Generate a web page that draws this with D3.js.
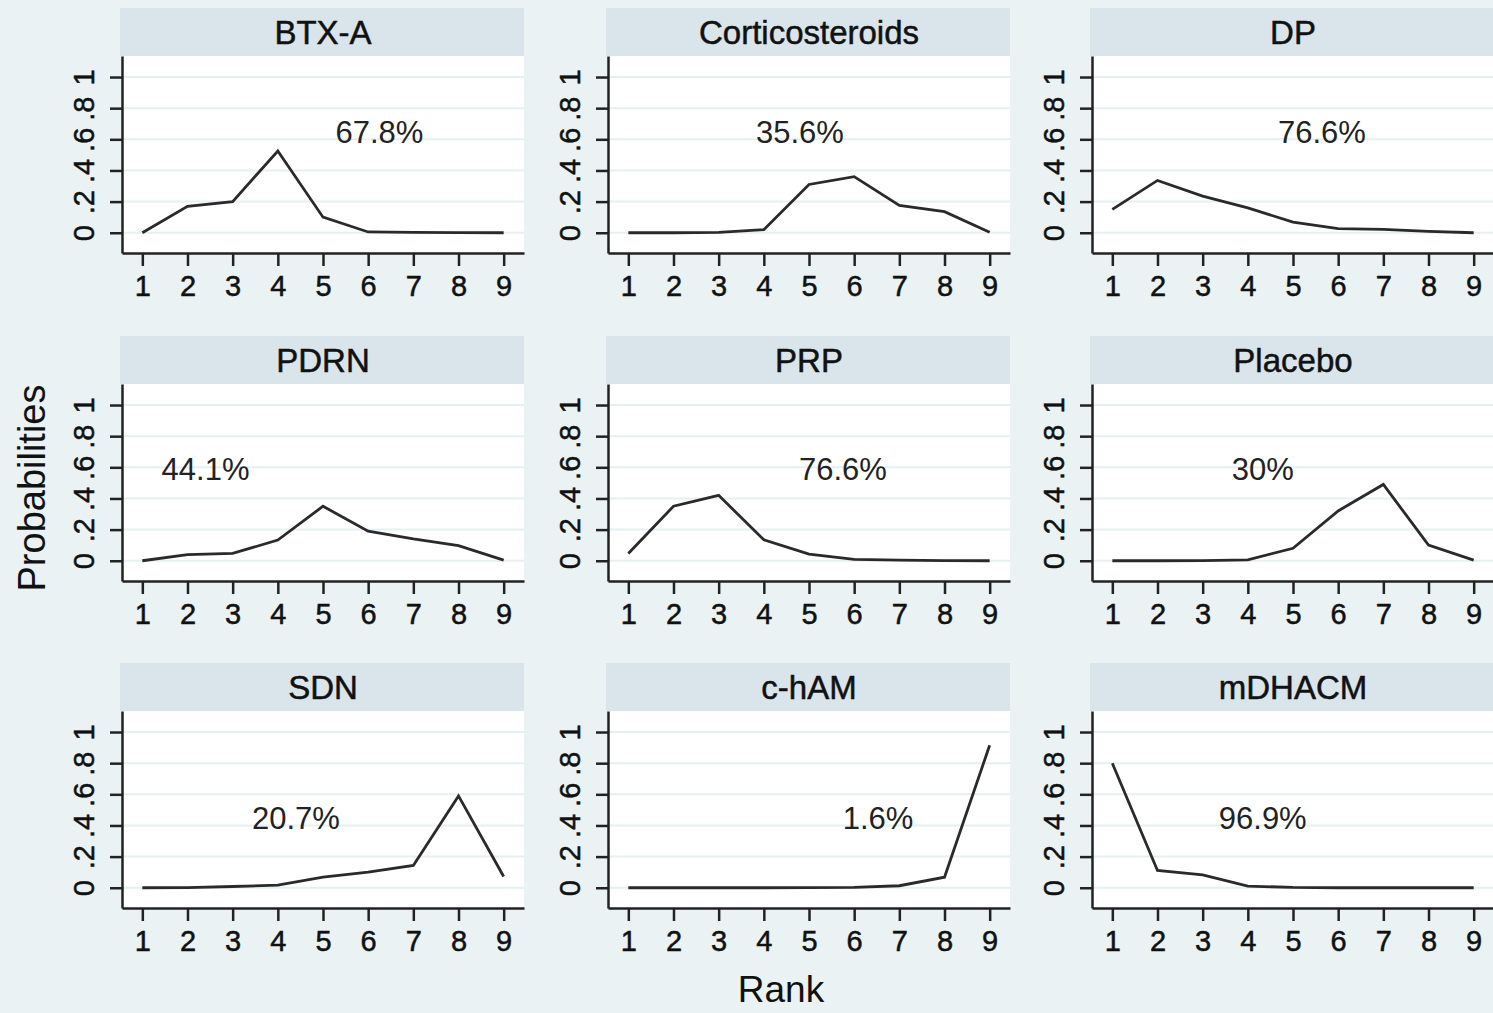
<!DOCTYPE html>
<html>
<head>
<meta charset="utf-8">
<script src="https://cdn.jsdelivr.net/npm/d3@7"></script>
<style>
  body { margin: 0; background: #eaf2f3; }
  svg { display: block; font-family: "Liberation Sans", Arial, sans-serif; }
</style>
</head>
<body>
<div id="chart"></div>
<script>
// rank probabilities per treatment
var treatments = ["BTX-A", "Corticosteroids", "DP", "PDRN", "PRP", "Placebo", "SDN", "c-hAM", "mDHACM"];
var ranks = [1, 2, 3, 4, 5, 6, 7, 8, 9];

var btxa     = [0.000, 0.170, 0.200, 0.525, 0.100, 0.005, 0.002, 0.001, 0.000];
var cortico  = [0.000, 0.000, 0.002, 0.020, 0.310, 0.360, 0.175, 0.135, 0.003];
var dp       = [0.150, 0.336, 0.235, 0.160, 0.068, 0.026, 0.022, 0.009, 0.000];
var pdrn     = [0.000, 0.040, 0.047, 0.133, 0.350, 0.190, 0.140, 0.097, 0.004];
var prp      = [0.047, 0.350, 0.420, 0.135, 0.043, 0.009, 0.004, 0.001, 0.000];
var placebo  = [0.000, 0.000, 0.001, 0.006, 0.080, 0.320, 0.490, 0.100, 0.004];
var sdn      = [0.000, 0.001, 0.008, 0.017, 0.068, 0.100, 0.143, 0.590, 0.072];
var cham     = [0.000, 0.000, 0.000, 0.000, 0.001, 0.002, 0.013, 0.068, 0.915];
var mdhacm   = [0.800, 0.111, 0.083, 0.011, 0.002, 0.000, 0.000, 0.000, 0.000];

var series = [btxa, cortico, dp, pdrn, prp, placebo, sdn, cham, mdhacm];

// SUCRA labels and where they sit (rank, probability), like stata text()
var sucra = ["67.8%", "35.6%", "76.6%", "44.1%", "76.6%", "30%", "20.7%", "1.6%", "96.9%"];
var sucraAt = [[6.25, 0.65], [4.8, 0.65], [5.64, 0.65], [2.4, 0.59], [5.75, 0.59], [4.33, 0.59], [4.4, 0.45], [6.53, 0.45], [4.33, 0.45]];

var yTicks = [0, 0.2, 0.4, 0.6, 0.8, 1];
var yTickLabels = ["0", ".2", ".4", ".6", ".8", "1"];

var W = 1493, H = 1013;
var colLeft = [122, 608, 1092],
    rowTop = [8, 336, 663],
    pw = 402, headH = 48, ph = 197;

var svg = d3.select("#chart").append("svg")
    .attr("width", W)
    .attr("height", H);

svg.append("rect").attr("width", W).attr("height", H).attr("fill", "#eaf2f3");

var x = d3.scaleLinear().domain([0.55, 9.45]).range([0, pw]);
var y = d3.scaleLinear().domain([-0.13, 1.135]).range([ph, 0]);

var line = d3.line()
    .x(function(d, i) { return x(ranks[i]); })
    .y(function(d) { return y(d); });

treatments.forEach(function(name, k) {
    var left = colLeft[k % 3], top = rowTop[Math.floor(k / 3)];

    var g = svg.append("g")
        .attr("transform", "translate(" + left + "," + top + ")");

    // strip header
    g.append("rect")
        .attr("x", -2).attr("y", 0)
        .attr("width", pw + 2).attr("height", headH)
        .attr("fill", "#d9e5ea");
    g.append("text")
        .attr("x", pw / 2).attr("y", headH / 2 + 12)
        .attr("text-anchor", "middle")
        .style("font-size", "33px")
        .attr("fill", "#111")
        .attr("stroke", "#111").attr("stroke-width", 0.5)
        .text(name);

    var p = g.append("g").attr("transform", "translate(0," + headH + ")");

    p.append("rect")
        .attr("width", pw).attr("height", ph)
        .attr("fill", "#ffffff");

    p.selectAll(".grid")
        .data(yTicks)
      .enter().append("line")
        .attr("x1", 0).attr("x2", pw)
        .attr("y1", function(d) { return y(d); })
        .attr("y2", function(d) { return y(d); })
        .attr("stroke", "#e6eff1")
        .attr("stroke-width", 2);

    var yAxis = d3.axisLeft(y)
        .tickValues(yTicks)
        .tickFormat(function(d, i) { return yTickLabels[i]; })
        .tickSize(12)
        .tickPadding(17)
        .tickSizeOuter(0);

    var ya = p.append("g").call(yAxis);
    ya.select(".domain").attr("stroke", "#222").attr("stroke-width", 2.5);
    ya.selectAll(".tick line").attr("stroke", "#222").attr("stroke-width", 2.5);
    ya.selectAll(".tick text")
        .attr("transform", "rotate(-90)")
        .attr("x", 0).attr("y", -28).attr("dy", 0)
        .attr("text-anchor", "middle")
        .attr("fill", "#111")
        .attr("stroke", "#111").attr("stroke-width", 0.5)
        .style("font-size", "29px");

    var xAxis = d3.axisBottom(x)
        .tickValues(ranks)
        .tickFormat(d3.format("d"))
        .tickSize(13)
        .tickPadding(9)
        .tickSizeOuter(0);

    var xa = p.append("g")
        .attr("transform", "translate(0," + ph + ")")
        .call(xAxis);
    xa.select(".domain").attr("stroke", "#222").attr("stroke-width", 2.5);
    xa.selectAll(".tick line").attr("stroke", "#222").attr("stroke-width", 2.5);
    xa.selectAll(".tick text")
        .attr("fill", "#111")
        .attr("stroke", "#111").attr("stroke-width", 0.5)
        .style("font-size", "29px");

    p.append("path")
        .datum(series[k])
        .attr("d", line)
        .attr("fill", "none")
        .attr("stroke", "#2a2a2a")
        .attr("stroke-width", 2.8)
        .attr("stroke-linejoin", "miter");

    p.append("text")
        .attr("x", x(sucraAt[k][0]))
        .attr("y", y(sucraAt[k][1]))
        .attr("dy", "0.36em")
        .attr("text-anchor", "middle")
        .style("font-size", "31px")
        .attr("fill", "#222")
        .text(sucra[k]);
});

svg.append("text")
    .attr("transform", "translate(45,488) rotate(-90)")
    .attr("text-anchor", "middle")
    .style("font-size", "38px")
    .attr("fill", "#111")
    .text("Probabilities");

svg.append("text")
    .attr("x", 781).attr("y", 1002)
    .attr("text-anchor", "middle")
    .style("font-size", "37px")
    .attr("fill", "#111")
    .text("Rank");
</script>
</body>
</html>
